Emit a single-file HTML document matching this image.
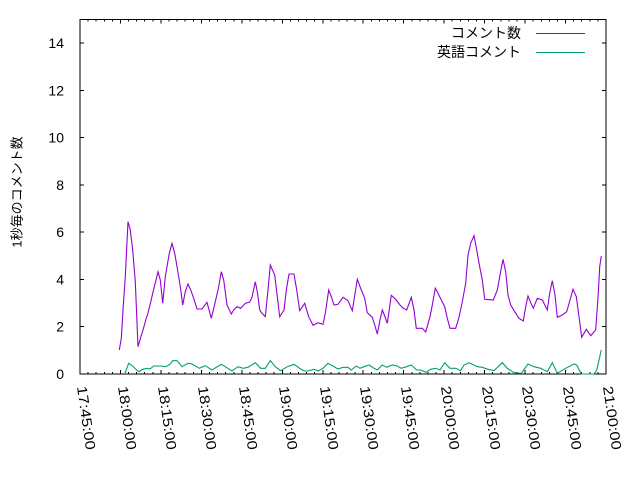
<!DOCTYPE html>
<html>
<head>
<meta charset="utf-8">
<style>
  html,body{margin:0;padding:0;background:#fff;}
  .wrap{position:relative;width:640px;height:480px;overflow:hidden;background:#fff;}
  svg{position:absolute;left:0;top:0;}
  .xl{position:absolute;height:14px;line-height:14px;font-family:"Liberation Sans",sans-serif;font-size:14px;color:#000;white-space:nowrap;transform-origin:0 50%;transform:rotate(82deg) scaleX(1.18);}
</style>
</head>
<body>
<div class="wrap">
<svg width="640" height="480" viewBox="0 0 640 480" xmlns="http://www.w3.org/2000/svg">
  <g stroke="#000" stroke-width="1" fill="none" shape-rendering="crispEdges">
    <path d="M80 374H84 M80 326.7H84 M80 279.5H84 M80 232.2H84 M80 185H84 M80 137.7H84 M80 90.4H84 M80 43.2H84
             M606 374H602 M606 326.7H602 M606 279.5H602 M606 232.2H602 M606 185H602 M606 137.7H602 M606 90.4H602 M606 43.2H602"/>
    <path id="xt" d=""/>
    <rect x="80" y="19.5" width="526" height="354.5"/>
  </g>
  <g font-family="Liberation Sans, sans-serif" font-size="14" fill="#000" text-anchor="end">
    <text x="64" y="379">0</text>
    <text x="64" y="331.7">2</text>
    <text x="64" y="284.5">4</text>
    <text x="64" y="237.2">6</text>
    <text x="64" y="190">8</text>
    <text x="64" y="142.7">10</text>
    <text x="64" y="95.4">12</text>
    <text x="64" y="48.2">14</text>
  </g>
  <text x="0" y="0" transform="translate(17,192) rotate(-90)" text-anchor="middle" dominant-baseline="central" font-family="Liberation Sans, Noto Sans CJK JP, sans-serif" font-size="13" fill="#000">1秒毎のコメント数</text>
  <g font-family="Liberation Sans, Noto Sans CJK JP, sans-serif" font-size="14" fill="#000" text-anchor="end">
    <text x="521" y="38">コメント数</text>
    <text x="521" y="57">英語コメント</text>
  </g>
  <line x1="536" y1="33.5" x2="585" y2="33.5" stroke="#9400d3" stroke-width="1"/>
  <line x1="536" y1="52.5" x2="585" y2="52.5" stroke="#009e73" stroke-width="1"/>
  <polyline fill="none" stroke="#9400d3" stroke-width="1.1" stroke-linejoin="miter" points="119.3,350 121.3,338.3 123,310 125.3,276.7 128,221.7 130.3,230 132.7,250 135.3,281.7 138,346.7 140.5,338 143,330 145.5,321 148,313 150.5,303 153,292 155.5,282 158,271.7 160.3,280 162.7,303.3 165.3,276.7 169.3,253.3 172,243.3 174.7,253.3 177.3,268.3 180.3,286.7 182.7,305 185.3,291.7 188,284 190.7,290 193.7,298.3 197,309 202,309 207,302.3 211.3,318.3 215.3,301.7 218.7,286.7 221.3,271.7 223.7,280 227,305 231.3,314 233.7,310 237,306.7 240.7,308.3 245.3,303.3 249.7,302 252,297.3 255.3,281.7 257.3,291.7 259.7,310 262,313.3 265.3,316.7 268,290 270.3,265 274.7,275 277.3,296.7 279.7,316.7 284,310 286.3,290 289,274 294,274 296.7,290 299.7,310.7 302,307.3 304.7,303.3 308.7,316.7 313,325.3 318,322.7 323,324.3 325.3,313.3 328.7,290 331.3,296.7 334,305 338,304.3 343,297.3 348,300.7 352.3,310.7 357.3,279.3 361.3,290 364.7,298.3 367.3,312.7 372.3,317.3 374.7,325 377.3,334 380,320 382.3,310 384.7,316 387.3,323.3 391.3,295.3 395.7,299.3 400,305 403.3,308.3 406.7,310 411.3,297.3 414,310 416.3,328.3 422.3,328.3 425.7,332 430,316.7 432.3,305 435.3,288.3 438,293.3 441.3,300 444.7,306.7 447.3,318.3 450,328.3 455.7,328.3 459,317.3 462.3,301.7 465.7,283.3 468,255 470.7,243.3 474,235.7 476.7,250 480,268.3 482.3,280 484.7,299.3 493.3,300 497.3,290 500,275 503,259.3 505.7,271.7 508,295 510.7,305 514.7,311.7 519,318.3 523.3,321 525.7,306.7 528,296 530.7,302.7 533.3,308.3 537.3,298.3 542.3,300 547.3,310 549.7,293.3 552.3,280.7 555,295 557.3,317.3 562.3,315 566.7,311.7 570,300 573,289.3 576.3,296.7 579,316.7 581.7,337.3 586.3,329.3 590.7,335.7 595.7,330 598.3,293.3 599.7,266.7 601.3,256"/>
  <polyline fill="none" stroke="#009e73" stroke-width="1.1" points="124.7,374 128.7,363.3 132.7,366 135.5,369 138.7,371.7 142.7,369.3 147,368.3 150,369 153.7,366 161.3,366 166,366.7 170.3,364 172.7,360.7 177,360.7 182,366.7 188,363.3 192,364 199.3,368.3 205.3,365.7 212,370 221.3,364.3 225.3,366.7 232,371 238,366.7 243,368.3 248,367.3 255.3,362.7 260.7,368.3 265.3,368.3 270.3,360.7 275.3,366.7 280.7,370.7 287.3,366.7 294,364.3 299.7,368.3 304,371 308,371 314,369.3 318,371 323,368.3 328,363.3 333,366 338,369 343,367.3 348,367.3 351.3,370 356.3,366 360,368.3 364,366.7 369,365 374,368.3 377.3,370 382.3,365 386.7,367.3 392.3,365 397.3,366 401.3,368.3 406.7,366.7 411.3,365 416.7,370 420.7,370 425.7,372.3 430.7,369.3 435.7,368.3 440,370 444.7,362.7 450,368.3 455.7,368.3 460.7,370.7 464,365 469,362.7 474,365 477.3,366.7 482.3,367.3 488,369.3 494,370.7 502.3,362.7 507.3,368.3 514,372.7 521.3,373.3 528,364 534,366.7 540.7,368.3 547.3,371.7 552.3,362.7 557.3,373.3 565.7,368.3 574,364 576.7,365 581.3,374 594,374 596.7,370 601.3,350"/>
</svg>
<div class="xl" style="left:82px;top:379px;">17:45:00</div>
<div class="xl" style="left:122.5px;top:379px;">18:00:00</div>
<div class="xl" style="left:162.9px;top:379px;">18:15:00</div>
<div class="xl" style="left:203.4px;top:379px;">18:30:00</div>
<div class="xl" style="left:243.8px;top:379px;">18:45:00</div>
<div class="xl" style="left:284.3px;top:379px;">19:00:00</div>
<div class="xl" style="left:324.8px;top:379px;">19:15:00</div>
<div class="xl" style="left:365.2px;top:379px;">19:30:00</div>
<div class="xl" style="left:405.7px;top:379px;">19:45:00</div>
<div class="xl" style="left:446.1px;top:379px;">20:00:00</div>
<div class="xl" style="left:486.6px;top:379px;">20:15:00</div>
<div class="xl" style="left:527.1px;top:379px;">20:30:00</div>
<div class="xl" style="left:567.5px;top:379px;">20:45:00</div>
<div class="xl" style="left:608px;top:379px;">21:00:00</div>
</div>
<script>
(function(){
  var d="";
  for(var i=0;i<=65;i++){
    var x=(80+i*526/65).toFixed(1);
    var L=(i%5===0)?4:2;
    d+="M"+x+" 374V"+(374-L)+" M"+x+" 19.5V"+(19.5+L)+" ";
  }
  document.getElementById("xt").setAttribute("d",d);
})();
</script>
</body>
</html>
